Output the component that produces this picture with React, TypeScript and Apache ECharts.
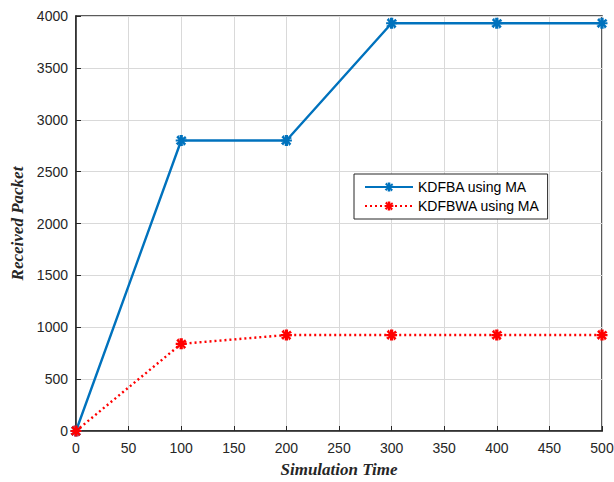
import React, { useEffect, useRef } from "react";
import * as echarts from "echarts";

const xValues = [0, 100, 200, 300, 400, 500];
const kdfbaValues = [0, 2800, 2800, 3930, 3930, 3930];
const kdfbwaValues = [0, 840, 925, 925, 925, 925];
const seriesNames = ["KDFBA using MA", "KDFBWA using MA"];

const starPath =
  "path://M3.5,0 L6.5,0 L6.5,2.5 L8.5,0.8 L10,3 L7.5,4 L10,4 L10,6 L7.5,6 L9.5,8 L7.5,10 L6.5,7.5 L6.5,10 L3.5,10 L3.5,7.5 L2,9.5 L0,7.5 L2.5,6 L0,6 L0,4 L2.5,4 L0.5,2 L2.5,0 L3.5,2.5 Z";

export default function App() {
  const ref = useRef<HTMLDivElement>(null);
  useEffect(() => {
    if (!ref.current) return;
    const chart = echarts.init(ref.current, null, { renderer: "svg" });
    const axisColor = "#262626";
    chart.setOption({
      animation: false,
      backgroundColor: "#ffffff",
      grid: {
        left: 76,
        right: 12,
        top: 16,
        bottom: 51,
        outerBoundsMode: "none",
        containLabel: false,
        show: true,
        borderColor: axisColor,
        borderWidth: 1.5,
        backgroundColor: "transparent",
      },
      legend: {
        orient: "vertical",
        left: 354,
        top: 174,
        width: 193,
        padding: [6, 8, 6, 10],
        itemGap: 5,
        itemWidth: 48,
        itemHeight: 11,
        borderColor: axisColor,
        borderWidth: 1,
        backgroundColor: "#ffffff",
        textStyle: { fontFamily: "Liberation Sans", fontSize: 14, color: "#000" },
        data: seriesNames,
      },
      xAxis: {
        type: "value",
        min: 0,
        max: 500,
        interval: 50,
        name: "Simulation Time",
        nameLocation: "middle",
        nameGap: 30,
        nameTextStyle: {
          fontFamily: "Liberation Serif",
          fontStyle: "italic",
          fontWeight: "bold",
          fontSize: 17,
          color: "#262626",
        },
        axisLine: { show: true, lineStyle: { color: axisColor, width: 1.5 } },
        axisTick: { show: true, inside: true, length: 5, lineStyle: { color: axisColor } },
        axisLabel: { fontFamily: "Liberation Sans", fontSize: 14, color: "#262626", margin: 10, formatter: (v: number) => String(v) },
        splitLine: { show: true, lineStyle: { color: "#d9d9d9", width: 1 } },
      },
      yAxis: {
        type: "value",
        min: 0,
        max: 4000,
        interval: 500,
        name: "Received Packet",
        nameLocation: "middle",
        nameGap: 50,
        nameTextStyle: {
          fontFamily: "Liberation Serif",
          fontStyle: "italic",
          fontWeight: "bold",
          fontSize: 17,
          color: "#262626",
        },
        axisLine: { show: true, lineStyle: { color: axisColor, width: 1.5 } },
        axisTick: { show: true, inside: true, length: 5, lineStyle: { color: axisColor } },
        axisLabel: { fontFamily: "Liberation Sans", fontSize: 14, color: "#262626", margin: 8, formatter: (v: number) => String(v) },
        splitLine: { show: true, lineStyle: { color: "#d9d9d9", width: 1 } },
      },
      series: [
        {
          name: seriesNames[0],
          type: "line",
          data: xValues.map((x, i) => [x, kdfbaValues[i]]),
          symbol: starPath,
          symbolSize: 11,
          showSymbol: true,
          lineStyle: { color: "#0072bd", width: 2.4 },
          itemStyle: { color: "#0072bd" },
          z: 3,
        },
        {
          name: seriesNames[1],
          type: "line",
          data: xValues.map((x, i) => [x, kdfbwaValues[i]]),
          symbol: starPath,
          symbolSize: 11,
          showSymbol: true,
          lineStyle: { color: "#ff0000", width: 2.4, type: [2, 3] },
          itemStyle: { color: "#ff0000" },
          z: 4,
        },
      ],
    });
    return () => chart.dispose();
  }, []);
  return (
    <div
      ref={ref}
      style={{ position: "fixed", left: 0, top: 0, width: 614, height: 482 }}
    />
  );
}
